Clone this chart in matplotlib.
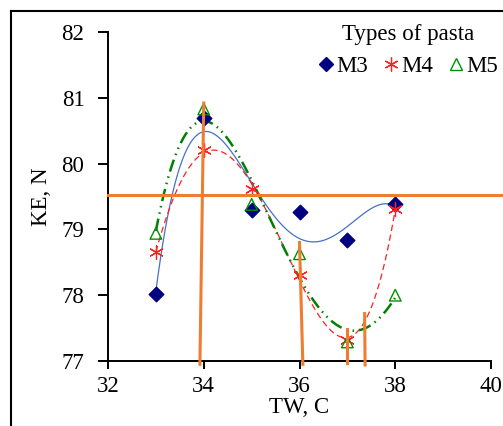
import numpy as np
import matplotlib
matplotlib.use('Agg')
import matplotlib.pyplot as plt
from matplotlib.lines import Line2D

# measured values
tw = [33, 34, 35, 36, 37, 38]
m3 = [78.02, 80.69, 79.30, 79.27, 78.84, 79.39]
m4 = [78.65, 80.20, 79.62, 78.30, 77.32, 79.31]
m5 = [78.94, 80.83, 79.38, 78.63, 77.29, 78.00]

# hand drawn orange guide lines: (x_bottom, y_bottom, x_top, y_top)
guide_h = 79.53
guide_v = [
    (33.92, 76.95, 34.00, 80.92),
    (36.07, 76.95, 36.00, 78.80),
    (37.00, 76.97, 37.00, 77.48),
    (37.37, 76.94, 37.36, 77.72),
]

plt.rcParams['font.family'] = ['Liberation Serif', 'DejaVu Serif']
plt.rcParams['font.size'] = 16.5

fig = plt.figure(figsize=(5.03, 4.26), dpi=100)
ax = fig.add_axes([108 / 503, 1 - 361 / 426, 383 / 503, 329 / 426])

orange = '#ED7D31'

# trend lines (polynomial, like Excel)
xs = np.linspace(33, 38, 300)
fit3 = np.polyval(np.polyfit(tw, m3, 4), xs)
fit4 = np.polyval(np.polyfit(tw, m4, 4), xs)
fit5 = np.polyval(np.polyfit(tw, m5, 4), xs)
ax.plot(xs, fit3, color='#4472C4', lw=0.9, zorder=2)
ax.plot(xs, fit4, color='#FF2020', lw=0.9, ls=(0, (5, 3)), zorder=2)
ax.plot(xs, fit5, color='#008000', lw=1.8, ls=(0, (5, 2, 0.6, 2, 0.6, 2)), zorder=2)

ax.scatter(tw, m3, marker='D', s=55, color='#000080', zorder=3)
ax.scatter(tw, m4, marker=(6, 2, 0), s=100, color='#FF2020', linewidths=0.9, zorder=3)
ax.scatter(tw, m5, marker='^', s=70, facecolor='none', edgecolor='#009000', linewidths=1.0, zorder=3)

# orange guides
ax.plot([32, 40.3], [guide_h, guide_h], color=orange, lw=2.2, clip_on=False, zorder=4)
for x0, y0, x1, y1 in guide_v:
    ax.plot([x0, x1], [y0, y1], color=orange, lw=2.2, clip_on=False, zorder=4)

ax.set_xlim(32, 40)
ax.set_ylim(77, 82)
ax.set_xticks([32, 34, 36, 38, 40])
ax.set_yticks([77, 78, 79, 80, 81, 82])
for s in ['top', 'right']:
    ax.spines[s].set_visible(False)
for s in ['left', 'bottom']:
    ax.spines[s].set_linewidth(1.4)
ax.tick_params(axis='both', direction='out', width=1.4, colors='black')
ax.tick_params(axis='y', length=7, pad=10)
ax.tick_params(axis='x', length=6, pad=5)
ax.set_xlabel('TW, C', labelpad=0)
ax.set_ylabel('KE, N', labelpad=7)

handles = [
    Line2D([], [], ls='none', marker='D', color='#000080', markersize=7),
    Line2D([], [], ls='none', marker=(6, 2, 0), color='#FF2020', markersize=10, markeredgewidth=0.9),
    Line2D([], [], ls='none', marker='^', markerfacecolor='none', markeredgecolor='#009000', markersize=8),
]
leg = fig.legend(handles, ['M3', 'M4', 'M5'], title='Types of pasta', ncol=3,
                 loc='upper right', bbox_to_anchor=(1.0, 1 - 19 / 426),
                 frameon=False, handletextpad=0.05, columnspacing=0.6,
                 handlelength=0.8, borderpad=0.2, borderaxespad=0.0,
                 fontsize=16.5, title_fontsize=16.5)

# outer frame (partly cut off)
fx = 11 / 503
fy = 1 - 11 / 426
fig.add_artist(Line2D([fx, fx], [0, fy], color='black', lw=1.5, transform=fig.transFigure))
fig.add_artist(Line2D([fx, 1], [fy, fy], color='black', lw=1.5, transform=fig.transFigure))

fig.savefig('out.png', dpi=100)
